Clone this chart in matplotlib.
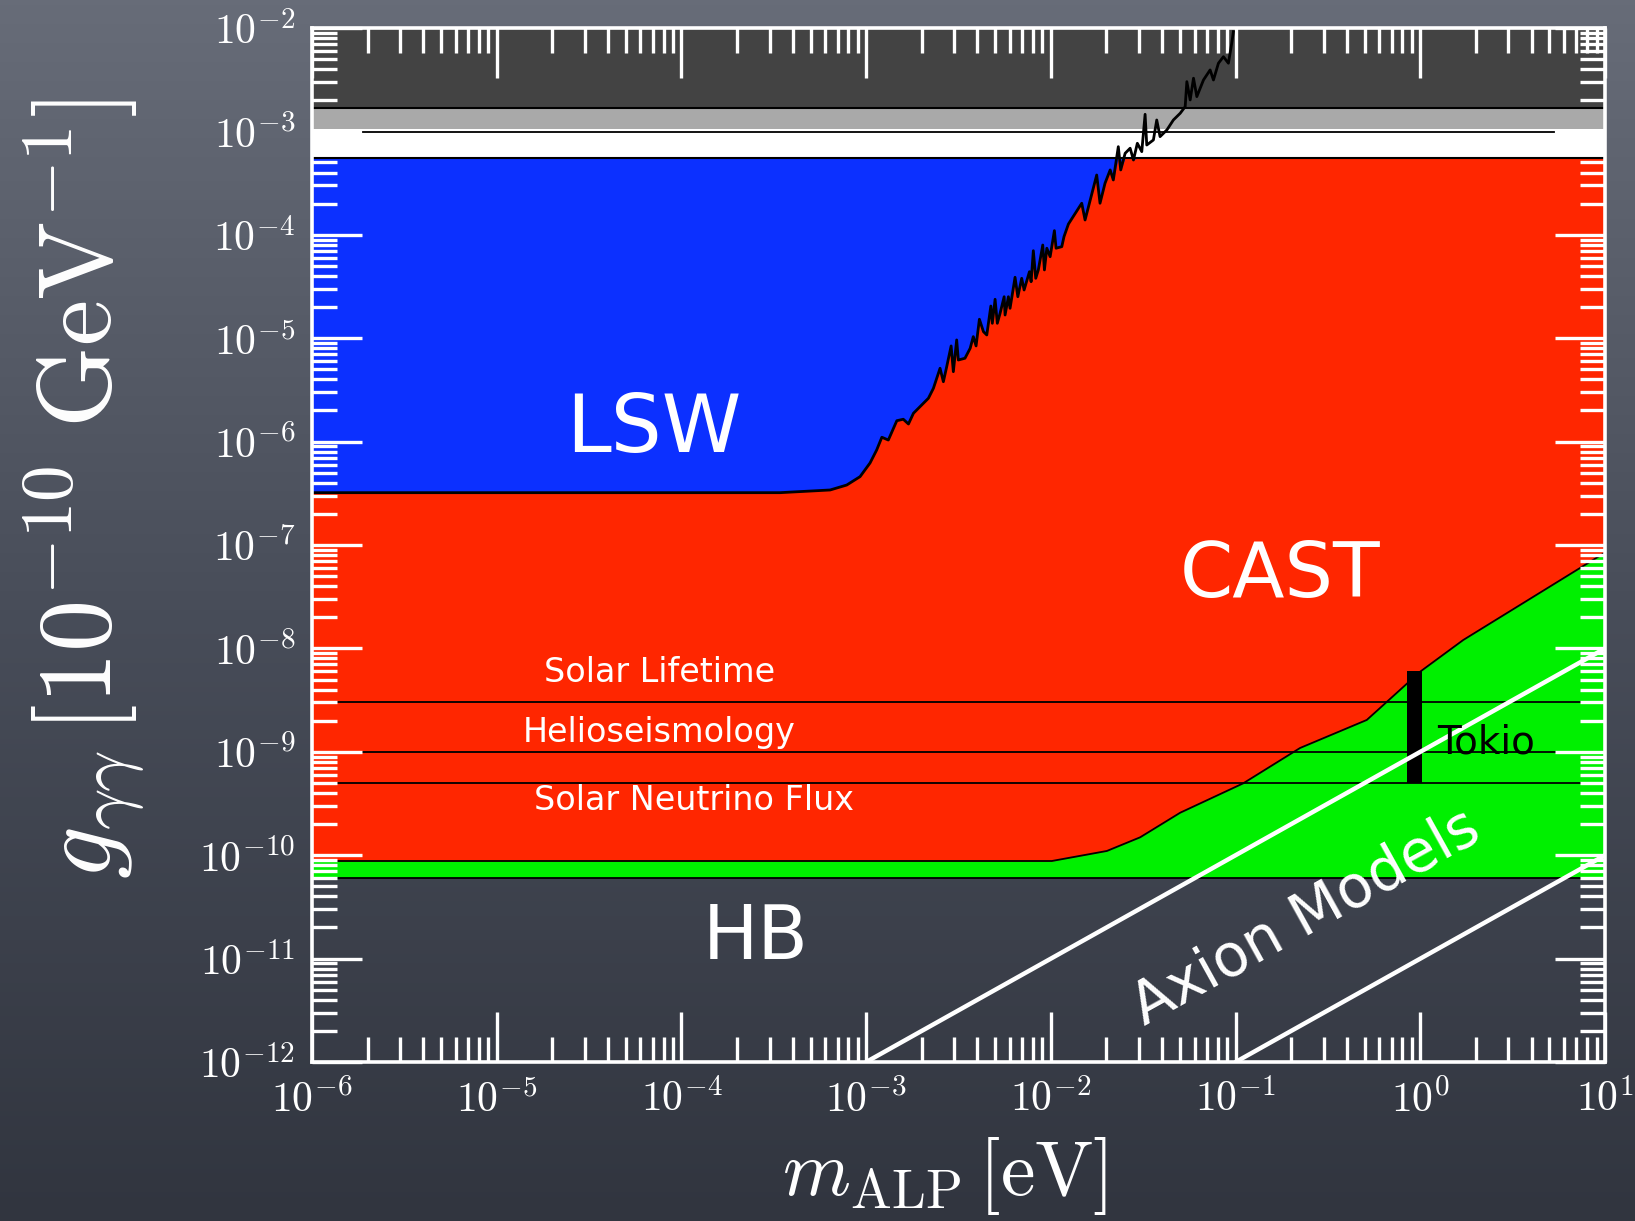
import numpy as np
import matplotlib
matplotlib.use('Agg')
import matplotlib.pyplot as plt
from matplotlib.colors import LinearSegmentedColormap
from matplotlib.ticker import LogLocator, FuncFormatter, NullFormatter

plt.rcParams['mathtext.fontset'] = 'cm'
plt.rcParams['font.family'] = ['DejaVu Sans']

# axis ranges
m_range = [1e-6, 1e1]
g_range = [1e-12, 1e-2]

# bands at the top of the plot (coupling values)
dark_band = [1.69e-3, 1e-2]
grey_band = [1.05e-3, 1.69e-3]
white_band = [5.57e-4, 1.05e-3]
grey_line_g = 9.9e-4
grey_line_m = [1.9e-6, 5.3]
top_g = 5.57e-4

lsw_logm = [-6.0, -3.466, -3.195, -3.105, -3.033, -2.979, -2.943, -2.915, -2.880, -2.834,
            -2.799, -2.771, -2.744, -2.663, -2.636, -2.600, -2.582, -2.564, -2.540, -2.528,
            -2.510, -2.501, -2.465, -2.437, -2.420, -2.405, -2.387, -2.365, -2.347, -2.325,
            -2.317, -2.302, -2.290, -2.275, -2.253, -2.248, -2.230, -2.221, -2.194, -2.179,
            -2.158, -2.145, -2.116, -2.107, -2.095, -2.082, -2.068, -2.044, -2.035, -2.022,
            -2.004, -1.981, -1.972, -1.941, -1.929, -1.905, -1.833, -1.815, -1.752, -1.734,
            -1.707, -1.679, -1.662, -1.635, -1.622, -1.598, -1.571, -1.553, -1.532, -1.508,
            -1.490, -1.481, -1.445, -1.427, -1.409, -1.372, -1.337, -1.300, -1.273, -1.264,
            -1.246, -1.228, -1.210, -1.174, -1.138, -1.120, -1.093, -1.066, -1.039, -1.021,
            -1.012]
lsw_logg = [-6.494, -6.494, -6.468, -6.420, -6.339, -6.207, -6.081, -5.958, -5.985, -5.798,
            -5.784, -5.830, -5.726, -5.581, -5.485, -5.291, -5.421, -5.276, -5.075, -5.324,
            -5.017, -5.211, -5.194, -5.098, -4.985, -5.075, -4.817, -4.937, -4.969, -4.689,
            -4.856, -4.624, -4.856, -4.759, -4.599, -4.776, -4.599, -4.711, -4.411, -4.599,
            -4.421, -4.534, -4.357, -4.454, -4.154, -4.421, -4.340, -4.099, -4.340, -4.130,
            -4.212, -3.960, -4.130, -4.115, -4.018, -3.896, -3.695, -3.857, -3.422, -3.695,
            -3.502, -3.373, -3.470, -3.148, -3.373, -3.212, -3.163, -3.277, -3.115, -3.196,
            -2.835, -3.132, -3.083, -2.890, -3.051, -2.986, -2.890, -2.825, -2.761, -2.519,
            -2.696, -2.486, -2.664, -2.503, -2.406, -2.503, -2.341, -2.278, -2.341, -2.148,
            -2.036]

# CAST limit, log10 values
cast_logm = [-6.0, -1.995, -1.697, -1.517, -1.300, -0.959, -0.651, -0.290, -0.218, -0.001, 0.232, 1.0]
cast_logg = [-10.056, -10.056, -9.959, -9.827, -9.589, -9.305, -8.963, -8.692, -8.576, -8.225, -7.919, -7.073]

hb_g = 6.0e-11

# solar bounds
solar_names = ['Solar Lifetime', 'Helioseismology', 'Solar Neutrino Flux']
solar_g = [3e-9, 1e-9, 5e-10]

# Tokio helioscope
tokio_m = [0.845, 1.02]
tokio_g = [5e-10, 6e-9]

# axion model band edges
axion_hi_m = [1e-3, 1e1]
axion_hi_g = [1e-12, 1e-8]
axion_lo_m = [1e-1, 1e1]
axion_lo_g = [1e-12, 1e-10]

fig = plt.figure(figsize=(16.35, 12.21), dpi=100)

# chalkboard background
bg = fig.add_axes([0, 0, 1, 1], zorder=-10)
board = LinearSegmentedColormap.from_list('board', ['#676c78', '#484d59', '#31353f'])
bg.imshow(np.linspace(0, 1, 256)[:, None], aspect='auto', cmap=board, extent=[0, 1, 0, 1])
bg.axis('off')

ax = fig.add_axes([0.1908, 0.1302, 0.7909, 0.8469])
ax.set_facecolor('none')
ax.set_xscale('log')
ax.set_yscale('log')
ax.set_xlim(m_range)
ax.set_ylim(g_range)
ax.set_axisbelow(False)

lsw_m = 10 ** np.array(lsw_logm)
lsw_g = 10 ** np.array(lsw_logg)
cast_m = 10 ** np.array(cast_logm)
cast_g = 10 ** np.array(cast_logg)

# filled regions
ax.fill_between(m_range, dark_band[0], dark_band[1], color='#434343', lw=0, zorder=1)
ax.fill_between(m_range, hb_g, top_g, color='#00f000', lw=0, zorder=1)
ax.fill_between(cast_m, cast_g, top_g, color='#ff2600', lw=0, zorder=1.1)
ax.fill_between(lsw_m, np.minimum(lsw_g, top_g), top_g, color='#0c30ff', lw=0, zorder=1.2)
ax.fill_between(m_range, grey_band[0], grey_band[1], color='#a9a9a9', lw=0, zorder=3)
ax.fill_between(m_range, white_band[0], white_band[1], color='white', lw=0, zorder=3)

# boundary lines
ax.plot(cast_m, cast_g, color='black', lw=1.3, zorder=2)
ax.axhline(hb_g, color='black', lw=1.3, zorder=2)
for g in solar_g:
    ax.axhline(g, color='black', lw=1.3, zorder=2)
ax.axhline(dark_band[0], color='black', lw=1.5, zorder=3.1)
ax.axhline(top_g, color='black', lw=1.5, zorder=3.1)
ax.plot(grey_line_m, [grey_line_g, grey_line_g], color='black', lw=1.3, zorder=3.1)
ax.plot(lsw_m, lsw_g, color='black', lw=2.0, zorder=3.2)

ax.fill_between(tokio_m, tokio_g[0], tokio_g[1], color='black', lw=0, zorder=2.2)

ax.plot(axion_hi_m, axion_hi_g, color='white', lw=3.2, zorder=2.3, solid_capstyle='round')
ax.plot(axion_lo_m, axion_lo_g, color='white', lw=3.2, zorder=2.3, solid_capstyle='round')

# region labels
ax.text(10 ** -4.149, 10 ** -5.884, 'LSW', color='white', fontsize=58, ha='center', va='center', zorder=4)
ax.text(10 ** -0.757, 10 ** -7.296, 'CAST', color='white', fontsize=55, ha='center', va='center', zorder=4)
ax.text(10 ** -3.596, 10 ** -10.805, 'HB', color='white', fontsize=53, ha='center', va='center', zorder=4)
ax.text(10 ** -4.121, 10 ** -8.233, solar_names[0], color='white', fontsize=24, ha='center', va='center', zorder=4)
ax.text(10 ** -4.121, 10 ** -8.818, solar_names[1], color='white', fontsize=24, ha='center', va='center', zorder=4)
ax.text(10 ** -3.930, 10 ** -9.474, solar_names[2], color='white', fontsize=24, ha='center', va='center', zorder=4)
ax.text(10 ** 0.355, 10 ** -8.909, 'Tokio', color='black', fontsize=28, ha='center', va='center', zorder=4)
ax.text(10 ** -0.621, 10 ** -10.603, 'Axion Models', color='white', fontsize=42, rotation=29,
        ha='center', va='center', rotation_mode='anchor', zorder=4)

# ticks
for axis in (ax.xaxis, ax.yaxis):
    axis.set_major_locator(LogLocator(base=10, numticks=100))
    axis.set_minor_locator(LogLocator(base=10, subs=np.arange(2, 10), numticks=100))
    axis.set_minor_formatter(NullFormatter())
    axis.set_major_formatter(FuncFormatter(lambda v, _: r'$10^{%d}$' % round(np.log10(v))))

ax.tick_params(which='both', direction='in', top=True, right=True, color='white', width=2.4)
ax.tick_params(which='major', length=36, labelsize=30, labelcolor='white', pad=12)
ax.tick_params(which='minor', length=18)
for spine in ax.spines.values():
    spine.set_color('white')
    spine.set_linewidth(2.6)
    spine.set_zorder(3.5)

# axis labels
fig.text(0.578, 0.037, r'$m_{\mathrm{ALP}}\,[\mathrm{eV}]$', color='white', fontsize=56,
         ha='center', va='center')
fig.text(0.051, 0.600, r'$g_{\gamma\gamma}\,[10^{-10}\ \mathrm{GeV}^{-1}]$', color='white',
         fontsize=75, rotation=90, ha='center', va='center')

fig.savefig('out.png', dpi=100)
